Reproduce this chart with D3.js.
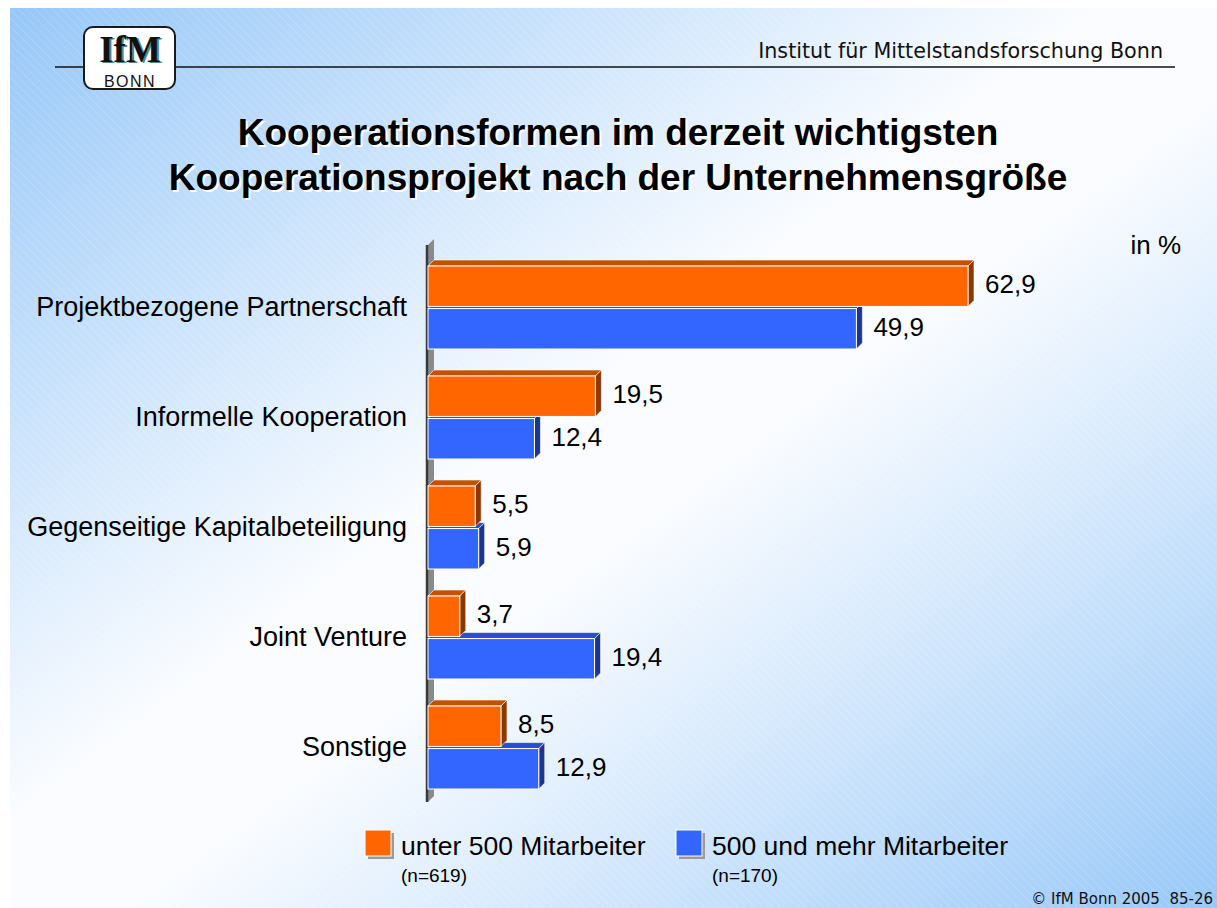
<!DOCTYPE html>
<html>
<head>
<meta charset="utf-8">
<script src="https://cdn.jsdelivr.net/npm/d3@7"></script>
<style>
  body { margin: 0; background: #fff; }
  svg { display: block; }
</style>
</head>
<body>
<div id="chart"></div>
<script>
// chart data
var categories = ["Projektbezogene Partnerschaft", "Informelle Kooperation", "Gegenseitige Kapitalbeteiligung", "Joint Venture", "Sonstige"];
var seriesKeys = ["small", "large"];
var seriesNames = ["unter 500 Mitarbeiter", "500 und mehr Mitarbeiter"];
var seriesN = ["(n=619)", "(n=170)"];
var smallValues = [62.9, 19.5, 5.5, 3.7, 8.5];
var largeValues = [49.9, 12.4, 5.9, 19.4, 12.9];

var width = 1217, height = 908;

var colors = {
  small: { front: "#ff6600", top: "#c45000", side: "#8c3800" },
  large: { front: "#3366ff", top: "#2a4fcc", side: "#1c3590" }
};

var svg = d3.select("#chart").append("svg")
  .attr("width", width)
  .attr("height", height);

var defs = svg.append("defs");

// background gradient: blue corners, white across the middle
var grad = defs.append("linearGradient")
  .attr("id", "bg")
  .attr("x1", 0).attr("y1", 0).attr("x2", 1).attr("y2", 1);
grad.append("stop").attr("offset", "0%").attr("stop-color", "#96c7f8");
grad.append("stop").attr("offset", "45%").attr("stop-color", "#fafcff");
grad.append("stop").attr("offset", "55%").attr("stop-color", "#fafcff");
grad.append("stop").attr("offset", "100%").attr("stop-color", "#98c8f8");

// thin diagonal hatching
var pat = defs.append("pattern")
  .attr("id", "hatch")
  .attr("width", 6).attr("height", 6)
  .attr("patternUnits", "userSpaceOnUse")
  .attr("patternTransform", "rotate(-45)");
pat.append("line")
  .attr("x1", 0).attr("y1", 0).attr("x2", 0).attr("y2", 6)
  .attr("stroke", "#ffffff")
  .attr("stroke-width", 1)
  .attr("opacity", 0.3);

svg.append("rect")
  .attr("x", 10).attr("y", 8)
  .attr("width", width - 10).attr("height", height - 8)
  .attr("fill", "url(#bg)");
svg.append("rect")
  .attr("x", 10).attr("y", 8)
  .attr("width", width - 10).attr("height", height - 8)
  .attr("fill", "url(#hatch)");

// header line + institute name
svg.append("line")
  .attr("x1", 55).attr("x2", 1175)
  .attr("y1", 67).attr("y2", 67)
  .attr("stroke", "#111")
  .attr("stroke-width", 1.5);

svg.append("text")
  .attr("x", 1163).attr("y", 58)
  .attr("text-anchor", "end")
  .attr("font-family", "DejaVu Sans, Verdana, sans-serif")
  .attr("font-size", 20.7)
  .attr("fill", "#111")
  .text("Institut für Mittelstandsforschung Bonn");

// logo
var logo = svg.append("g");
logo.append("rect")
  .attr("x", 84).attr("y", 27)
  .attr("width", 91).attr("height", 62)
  .attr("rx", 9)
  .attr("fill", "#fff")
  .attr("stroke", "#1a1a1a")
  .attr("stroke-width", 2);
logo.append("text")
  .attr("x", 132).attr("y", 63)
  .attr("text-anchor", "middle")
  .attr("font-family", "Liberation Serif, DejaVu Serif, serif")
  .attr("font-weight", "bold")
  .attr("font-size", 37)
  .attr("fill", "#4a8a94")
  .text("IfM");
logo.append("text")
  .attr("x", 130).attr("y", 62)
  .attr("text-anchor", "middle")
  .attr("font-family", "Liberation Serif, DejaVu Serif, serif")
  .attr("font-weight", "bold")
  .attr("font-size", 37)
  .attr("fill", "#111")
  .text("IfM");
logo.append("text")
  .attr("x", 130).attr("y", 87)
  .attr("text-anchor", "middle")
  .attr("font-family", "Liberation Sans, Arial, sans-serif")
  .attr("font-size", 16)
  .attr("letter-spacing", 1.5)
  .attr("fill", "#111")
  .text("BONN");

// title with white shadow
var titleLines = ["Kooperationsformen im derzeit wichtigsten", "Kooperationsprojekt nach der Unternehmensgröße"];
titleLines.forEach(function(t, i) {
  svg.append("text")
    .attr("x", 620).attr("y", 147 + i * 45)
    .attr("text-anchor", "middle")
    .attr("font-family", "Liberation Sans, Arial, sans-serif")
    .attr("font-weight", "bold")
    .attr("font-size", 37)
    .attr("fill", "#fff")
    .text(t);
  svg.append("text")
    .attr("x", 618).attr("y", 145 + i * 45)
    .attr("text-anchor", "middle")
    .attr("font-family", "Liberation Sans, Arial, sans-serif")
    .attr("font-weight", "bold")
    .attr("font-size", 37)
    .attr("fill", "#000")
    .text(t);
});

svg.append("text")
  .attr("x", 1181).attr("y", 254)
  .attr("text-anchor", "end")
  .attr("font-family", "Liberation Sans, Arial, sans-serif")
  .attr("font-size", 26)
  .attr("fill", "#000")
  .text("in %");

// scales
var depth = 6;
var x = d3.scaleLinear()
  .domain([0, 70])
  .range([428, 428 + 70 * 8.585]);

var y = d3.scaleBand()
  .domain(categories)
  .range([252, 802]);

var ySub = d3.scaleBand()
  .domain(seriesKeys)
  .range([14, 97])
  .paddingInner(0.05);

var rows = categories.map(function(c, i) {
  return { cat: c, small: smallValues[i], large: largeValues[i] };
});

// axis wall (gray depth strip) and axis line
var chartG = svg.append("g");
var y0 = y.range()[0] - 7, y1 = y.range()[1];
chartG.append("path")
  .attr("d", "M" + x(0) + "," + y1 + " L" + (x(0) + depth) + "," + (y1 - depth) +
    " L" + (x(0) + depth) + "," + (y0 - depth) + " L" + x(0) + "," + y0 + "Z")
  .attr("fill", "#8a8a8a");
chartG.append("line")
  .attr("x1", x(0) - 1).attr("x2", x(0) - 1)
  .attr("y1", y0).attr("y2", y1)
  .attr("stroke", "#3a3a3a")
  .attr("stroke-width", 2.5);

// bars, blue drawn first so the orange front hides its top face
var barOrder = ["large", "small"];
rows.forEach(function(d) {
  barOrder.forEach(function(k) {
    var top = y(d.cat) + ySub(k);
    var bh = ySub.bandwidth();
    var xs = x(0), xe = x(d[k]);
    var g = chartG.append("g");
    // top face
    g.append("path")
      .attr("d", "M" + xs + "," + top + " L" + (xs + depth) + "," + (top - depth) +
        " L" + (xe + depth) + "," + (top - depth) + " L" + xe + "," + top + "Z")
      .attr("fill", colors[k].top)
      .attr("stroke", "#fff").attr("stroke-width", 0.6);
    // side face
    g.append("path")
      .attr("d", "M" + xe + "," + top + " L" + (xe + depth) + "," + (top - depth) +
        " L" + (xe + depth) + "," + (top + bh - depth) + " L" + xe + "," + (top + bh) + "Z")
      .attr("fill", colors[k].side)
      .attr("stroke", "#fff").attr("stroke-width", 0.6);
    // front face
    g.append("rect")
      .attr("x", xs).attr("y", top)
      .attr("width", xe - xs).attr("height", bh)
      .attr("fill", colors[k].front)
      .attr("stroke", "#fff").attr("stroke-width", 1);
    // value label
    g.append("text")
      .attr("x", xe + depth + 11)
      .attr("y", top + bh / 2 + 7)
      .attr("font-family", "Liberation Sans, Arial, sans-serif")
      .attr("font-size", 26)
      .attr("fill", "#000")
      .text(String(d[k]).replace(".", ","));
  });
});

// category labels
chartG.selectAll(".cat")
  .data(categories)
  .enter()
  .append("text")
  .attr("class", "cat")
  .attr("x", 407)
  .attr("y", function(c) { return y(c) + 55 + 9; })
  .attr("text-anchor", "end")
  .attr("font-family", "Liberation Sans, Arial, sans-serif")
  .attr("font-size", 27)
  .attr("fill", "#000")
  .text(function(c) { return c; });

// legend
var legendX = [365, 676];
seriesKeys.forEach(function(k, i) {
  var lg = svg.append("g").attr("transform", "translate(" + legendX[i] + ",830)");
  lg.append("rect")
    .attr("x", 3).attr("y", 3)
    .attr("width", 26).attr("height", 26)
    .attr("fill", "#9a9a9a");
  lg.append("rect")
    .attr("x", 0).attr("y", 0)
    .attr("width", 26).attr("height", 26)
    .attr("fill", colors[k].front)
    .attr("stroke", "#fff").attr("stroke-width", 1);
  lg.append("text")
    .attr("x", 36).attr("y", 25)
    .attr("font-family", "Liberation Sans, Arial, sans-serif")
    .attr("font-size", 26.5)
    .attr("fill", "#000")
    .text(seriesNames[i]);
  lg.append("text")
    .attr("x", 36).attr("y", 52)
    .attr("font-family", "Liberation Sans, Arial, sans-serif")
    .attr("font-size", 19)
    .attr("fill", "#000")
    .text(seriesN[i]);
});

// footer
svg.append("text")
  .attr("x", 1213).attr("y", 904)
  .attr("text-anchor", "end")
  .attr("font-family", "DejaVu Sans, Verdana, sans-serif")
  .attr("font-size", 15)
  .attr("fill", "#111")
  .text("© IfM Bonn 2005\u00a0\u00a085-26");
</script>
</body>
</html>
